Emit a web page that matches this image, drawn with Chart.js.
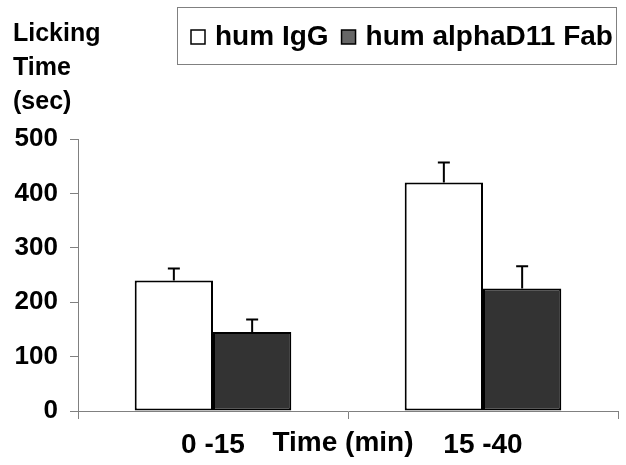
<!DOCTYPE html>
<html>
<head>
<meta charset="utf-8">
<script src="https://cdn.jsdelivr.net/npm/chart.js@4.4.0/dist/chart.umd.min.js"></script>
<style>
  html, body { margin:0; padding:0; background:#fff; }
  #wrap { width:626px; height:465px; }
</style>
</head>
<body>
<div id="wrap"><canvas id="chart" width="626" height="465"></canvas></div>
<script>
const categories = ['0 -15', '15 -40'];
const seriesNames = ['hum IgG', 'hum alphaD11 Fab'];
const igg = [240, 420];
const iggErr = [22, 37];
const fab = [145, 225];
const fabErr = [23, 41];
const yTicks = [0, 100, 200, 300, 400, 500];
const yTitle = ['Licking', 'Time', '(sec)'];
const xTitle = 'Time (min)';

const FONT = '"Liberation Sans", Arial, sans-serif';
const AXIS = '#808080';

const extras = {
  id: 'extras',
  afterDatasetsDraw(chart) {
    const ctx = chart.ctx, y = chart.scales.y, x = chart.scales.x;
    ctx.save();
    // error bars (upper only)
    chart.data.datasets.forEach((ds, i) => {
      chart.getDatasetMeta(i).data.forEach((bar, j) => {
        const top = y.getPixelForValue(ds.data[j] + ds.err[j]);
        ctx.strokeStyle = '#000'; ctx.lineWidth = 2;
        ctx.beginPath();
        ctx.moveTo(bar.x, bar.y); ctx.lineTo(bar.x, top);
        ctx.moveTo(bar.x - 6, top); ctx.lineTo(bar.x + 6, top);
        ctx.stroke();
      });
    });
    // y title
    ctx.fillStyle = '#000';
    ctx.font = 'bold 25px ' + FONT;
    ctx.textAlign = 'left'; ctx.textBaseline = 'alphabetic';
    yTitle.forEach((t, i) => ctx.fillText(t, 13, 41 + i * 34));
    // x title between the categories
    const mid = (x.getPixelForTick(0) + x.getPixelForTick(1)) / 2;
    ctx.font = 'bold 28px ' + FONT;
    ctx.textAlign = 'center'; ctx.textBaseline = 'middle';
    ctx.fillText(xTitle, mid - 5, 443);
    // legend
    ctx.strokeStyle = AXIS; ctx.lineWidth = 1;
    ctx.strokeRect(177.5, 7.5, 439, 57);
    ctx.font = 'bold 28px ' + FONT;
    ctx.textAlign = 'left';
    let lx = 191;
    chart.data.datasets.forEach(ds => {
      ctx.fillStyle = ds.legendColor;
      ctx.fillRect(lx, 30, 14, 14);
      ctx.strokeStyle = '#000'; ctx.lineWidth = 1.5;
      ctx.strokeRect(lx, 30, 14, 14);
      ctx.fillStyle = '#000';
      ctx.fillText(ds.label, lx + 24, 37);
      lx += 24 + ctx.measureText(ds.label).width + 13;
    });
    ctx.restore();
  }
};

new Chart(document.getElementById('chart'), {
  type: 'bar',
  data: {
    labels: categories,
    datasets: [
      { label: seriesNames[0], data: igg, err: iggErr, backgroundColor: '#ffffff', legendColor: '#ffffff',
        borderColor: '#000', borderWidth: 2, borderSkipped: false },
      { label: seriesNames[1], data: fab, err: fabErr, backgroundColor: '#333333', legendColor: '#666666',
        borderColor: '#000', borderWidth: 2, borderSkipped: false }
    ]
  },
  options: {
    responsive: false,
    animation: false,
    layout: { padding: { left: 0, right: 8, top: 139, bottom: 0 } },
    datasets: { bar: { barPercentage: 1, categoryPercentage: 0.58 } },
    plugins: { legend: { display: false }, tooltip: { enabled: false } },
    scales: {
      x: {
        grid: { drawOnChartArea: false, tickLength: 8, color: AXIS, offset: true },
        border: { color: AXIS, width: 1 },
        ticks: { color: '#000', font: { family: FONT, size: 28, weight: 'bold' }, padding: 9 },
        afterFit: s => { s.height = 54; }
      },
      y: {
        min: 0, max: 500,
        afterBuildTicks: s => { s.ticks = yTicks.map(v => ({ value: v })); },
        grid: { drawOnChartArea: false, tickLength: 8, color: AXIS },
        border: { color: AXIS, width: 1 },
        ticks: { color: '#000', font: { family: FONT, size: 26, weight: 'bold' }, padding: 12 },
        afterFit: s => { s.width = 78; }
      }
    }
  },
  plugins: [extras]
});
</script>
</body>
</html>
